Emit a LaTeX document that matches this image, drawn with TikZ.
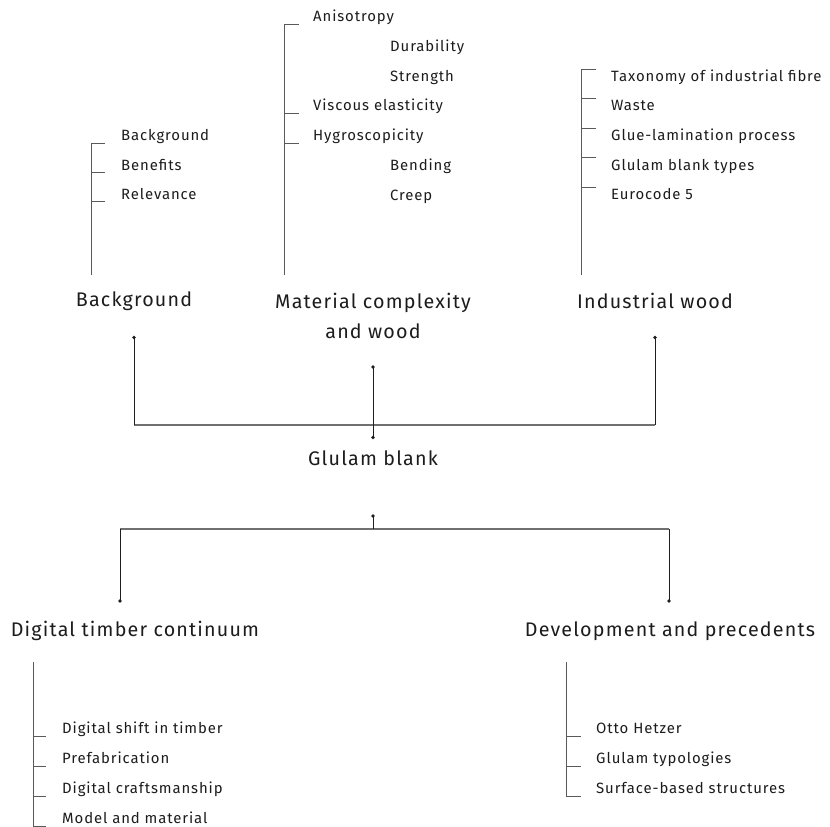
\documentclass[tikz,border=0pt]{standalone}
\usepackage{fontspec}
\setmainfont{Fira Sans}[LetterSpace=6]
\definecolor{ink}{HTML}{1C1C1C}
\definecolor{stem}{HTML}{1E1E1E}
\definecolor{rail}{HTML}{707070}
\definecolor{twig}{HTML}{5A5A5A}
\begin{document}
\begin{tikzpicture}[x=1pt,y=-1pt,
  leaf/.style={anchor=base west,inner sep=0pt,text=ink,font=\fontsize{14.9}{16}\selectfont},
  head/.style={anchor=center,inner sep=0pt,text=ink,align=center,font=\fontsize{19.7}{30}\selectfont},
  twigline/.style={draw=twig,line width=0.9pt},
  stemline/.style={draw=stem,line width=0.9pt},
  railline/.style={draw=rail,line width=1.1pt},
  knot/.style={circle,fill=stem,inner sep=0pt,minimum size=3.6pt}]
\useasboundingbox (0,0) rectangle (830,827);

% ---------- upper branches ----------
% Background
\coordinate (t1top) at (91,143);
\coordinate (t1bot) at (91,275);
\draw[twigline] (t1bot) -- (t1top) -- ++(14,0);
\draw[twigline] (91,172) -- ++(14,0);
\draw[twigline] (91,201.5) -- ++(14,0);
\node[leaf] (b1) at (121,140.5) {Background};
\node[leaf] (b2) at (121,170) {Benefits};
\node[leaf] (b3) at (121,199.5) {Relevance};

% Material complexity
\coordinate (t2top) at (284,24);
\coordinate (t2bot) at (284,275);
\draw[twigline] (t2bot) -- (t2top) -- ++(15,0);
\draw[twigline] (284,113) -- ++(15,0);
\draw[twigline] (284,143) -- ++(15,0);
\node[leaf] (m1) at (313,21.5) {Anisotropy};
\node[leaf] (m2) at (390,51) {Durability};
\node[leaf] (m3) at (390,81) {Strength};
\node[leaf] (m4) at (313,110.5) {Viscous elasticity};
\node[leaf] (m5) at (313,140.5) {Hygroscopicity};
\node[leaf] (m6) at (390,170) {Bending};
\node[leaf] (m7) at (390,200) {Creep};

% Industrial wood
\coordinate (t3top) at (581,69);
\coordinate (t3bot) at (581,275);
\draw[twigline] (t3bot) -- (t3top) -- ++(15,0);
\foreach \yy in {98,128,157.5,187}{\draw[twigline] (581,\yy) -- ++(15,0);}
\node[leaf] (i1) at (611,81) {Taxonomy of industrial fibre};
\node[leaf] (i2) at (611,110.5) {Waste};
\node[leaf] (i3) at (611,140.5) {Glue-lamination process};
\node[leaf] (i4) at (611,170) {Glulam blank types};
\node[leaf] (i5) at (611,199.5) {Eurocode 5};

% ---------- headings ----------
\node[head] (bg) at (134,301) {Background};
\node[head] (mc) at (373,316) {Material complexity\\and wood};
\node[head] (iw) at (655,301) {Industrial wood};
\node[head] (gb) at (373,458) {Glulam blank};
\node[head] (dt) at (135,631) {Digital timber continuum};
\node[head] (dp) at (670,631) {Development and precedents};

% ---------- joints ----------
\coordinate (bgdot) at (134,337.5);
\coordinate (mcdot) at (373,367);
\coordinate (iwdot) at (655,337.5);
\coordinate (gbin)  at (373,437.5);
\coordinate (upbar) at (373,425);
\coordinate (gbout) at (373,516);
\coordinate (lowbar) at (373,529);
\coordinate (dtdot) at (120,601);
\coordinate (dpdot) at (669,601);

\draw[railline] (bgdot |- upbar) -- (iwdot |- upbar);
\draw[stemline] (bgdot) -- (bgdot |- upbar);
\draw[stemline] (iwdot) -- (iwdot |- upbar);
\draw[stemline] (mcdot) -- (gbin);
\node[knot] at (bgdot) {};
\node[knot] at (mcdot) {};
\node[knot] at (iwdot) {};
\node[knot] at (gbin) {};

\draw[railline] (dtdot |- lowbar) -- (dpdot |- lowbar);
\draw[stemline] (gbout) -- (lowbar);
\draw[stemline] (dtdot |- lowbar) -- (dtdot);
\draw[stemline] (dpdot |- lowbar) -- (dpdot);
\node[knot] at (gbout) {};
\node[knot] at (dtdot) {};
\node[knot] at (dpdot) {};

% ---------- lower branches ----------
% Digital timber continuum
\coordinate (t4top) at (33,662);
\coordinate (t4bot) at (33,826);
\draw[twigline] (t4top) -- (t4bot) -- ++(13,0);
\foreach \yy in {736,766,796}{\draw[twigline] (33,\yy) -- ++(13,0);}
\node[leaf] (d1) at (62,733.5) {Digital shift in timber};
\node[leaf] (d2) at (62,763.5) {Prefabrication};
\node[leaf] (d3) at (62,793.5) {Digital craftsmanship};
\node[leaf] (d4) at (62,823) {Model and material};

% Development and precedents
\coordinate (t5top) at (566,662);
\coordinate (t5bot) at (566,796);
\draw[twigline] (t5top) -- (t5bot) -- ++(15,0);
\foreach \yy in {736,766}{\draw[twigline] (566,\yy) -- ++(15,0);}
\node[leaf] (p1) at (596,733.5) {Otto Hetzer};
\node[leaf] (p2) at (596,763.5) {Glulam typologies};
\node[leaf] (p3) at (596,793.5) {Surface-based structures};
\end{tikzpicture}
\end{document}
